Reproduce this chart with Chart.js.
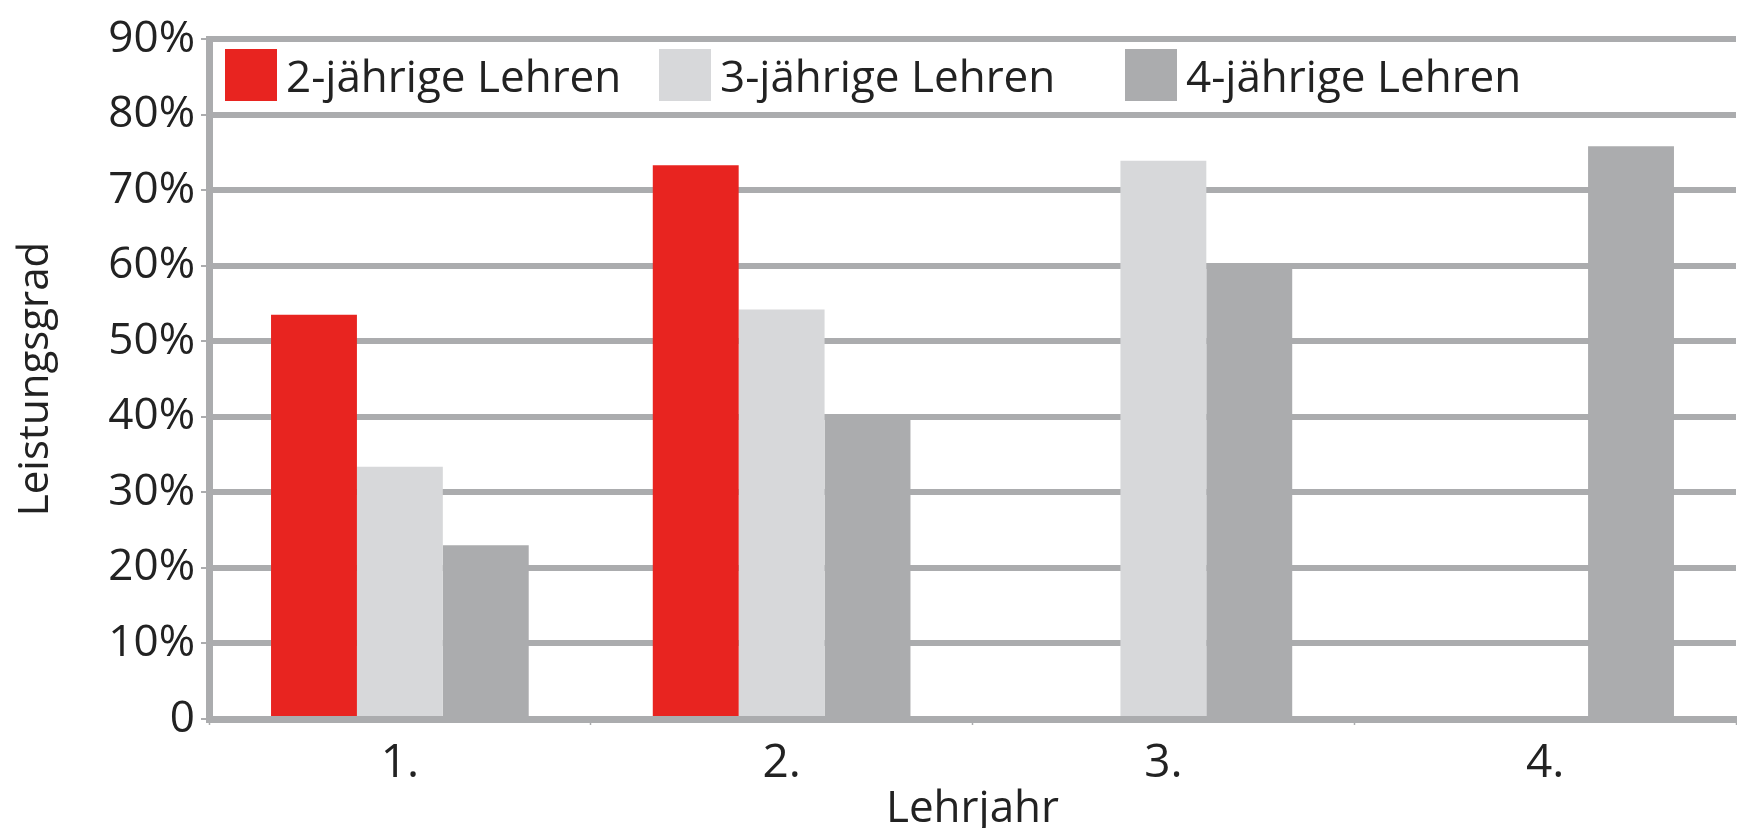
<!DOCTYPE html>
<html lang="de">
<head>
    <meta charset="UTF-8">
    <title>Leistungsgrad nach Lehrjahr</title>
    <script src="https://cdn.jsdelivr.net/npm/chart.js"></script>
    <style>
        html, body {
            margin: 0;
            padding: 0;
            background: #fff;
        }
        .chart-box {
            width: 1737px;
            height: 828px;
        }
    </style>
</head>
<body>
    <div class="chart-box">
        <canvas id="leistungChart"></canvas>
    </div>

    <script>
        // Lehrjahre (x axis)
        const lehrjahre = ['1.', '2.', '3.', '4.'];

        // Leistungsgrad in %, null = Lehre dauert nicht so lange
        const zweiJaehrig = [53.5, 73.3, null, null];
        const dreiJaehrig = [33.4, 54.2, 73.9, null];
        const vierJaehrig = [23.0, 40.3, 59.8, 75.8];

        const serienNamen = ['2-jährige Lehren', '3-jährige Lehren', '4-jährige Lehren'];

        // y axis ticks
        const yTicks = [0, 10, 20, 30, 40, 50, 60, 70, 80, 90];

        const achsenGrau = '#abacae';
        const textFarbe = '#222222';
        const schrift = "'Open Sans', 'DejaVu Sans', sans-serif";

        // Legend drawn inside the top band of the plot (between 90% and 80%)
        const innerLegend = {
            id: 'innerLegend',
            afterDraw(chart, args, opts) {
                const ctx = chart.ctx;
                ctx.save();
                ctx.font = opts.fontSize + 'px ' + schrift;
                ctx.textBaseline = 'alphabetic';
                ctx.textAlign = 'left';
                chart.data.datasets.forEach((ds, i) => {
                    const x = opts.xs[i];
                    ctx.fillStyle = ds.backgroundColor;
                    ctx.fillRect(x, opts.boxTop, opts.boxSize, opts.boxSize);
                    ctx.fillStyle = textFarbe;
                    ctx.fillText(ds.label, x + opts.boxSize + opts.gap, opts.baseline);
                });
                ctx.restore();
            }
        };

        const ctx = document.getElementById('leistungChart').getContext('2d');
        const leistungChart = new Chart(ctx, {
            type: 'bar',
            data: {
                labels: lehrjahre,
                datasets: [
                    { label: serienNamen[0], data: zweiJaehrig, backgroundColor: '#e82420' },
                    { label: serienNamen[1], data: dreiJaehrig, backgroundColor: '#d7d8da' },
                    { label: serienNamen[2], data: vierJaehrig, backgroundColor: '#abacae' }
                ]
            },
            options: {
                responsive: true,
                maintainAspectRatio: false,
                animation: false,
                categoryPercentage: 0.675,
                barPercentage: 1.0,
                layout: {
                    padding: { top: 39, right: 1, left: 0, bottom: 0 }
                },
                plugins: {
                    legend: { display: false },
                    tooltip: { enabled: false },
                    innerLegend: {
                        xs: [225, 659, 1125],
                        boxTop: 49,
                        boxSize: 52,
                        gap: 9,
                        baseline: 92,
                        fontSize: 44
                    }
                },
                scales: {
                    x: {
                        z: 1,
                        grid: {
                            drawOnChartArea: false,
                            color: achsenGrau,
                            tickLength: 6,
                            tickWidth: 1.5
                        },
                        border: { color: achsenGrau, width: 7 },
                        ticks: {
                            color: textFarbe,
                            font: { family: schrift, size: 46 },
                            padding: 11
                        },
                        title: {
                            display: true,
                            text: 'Lehrjahr',
                            color: textFarbe,
                            font: { family: schrift, size: 44 },
                            padding: { top: 0, bottom: -8 }
                        },
                        afterFit(scale) {
                            scale.height = 109;
                        }
                    },
                    y: {
                        min: 0,
                        max: 90,
                        afterBuildTicks(scale) {
                            scale.ticks = yTicks.map(v => ({ value: v }));
                        },
                        grid: {
                            color: achsenGrau,
                            lineWidth: 6,
                            tickLength: 8,
                            tickWidth: 2,
                            tickColor: achsenGrau
                        },
                        border: { color: achsenGrau, width: 7 },
                        ticks: {
                            color: textFarbe,
                            font: { family: schrift, size: 44 },
                            padding: 6,
                            callback: (v) => v === 0 ? '0' : v + '%'
                        },
                        title: {
                            display: true,
                            text: 'Leistungsgrad',
                            color: textFarbe,
                            font: { family: schrift, size: 42 },
                            padding: { top: 11, bottom: 0 }
                        },
                        afterFit(scale) {
                            scale.width = 209;
                        }
                    }
                }
            },
            plugins: [innerLegend]
        });
    </script>
</body>
</html>
